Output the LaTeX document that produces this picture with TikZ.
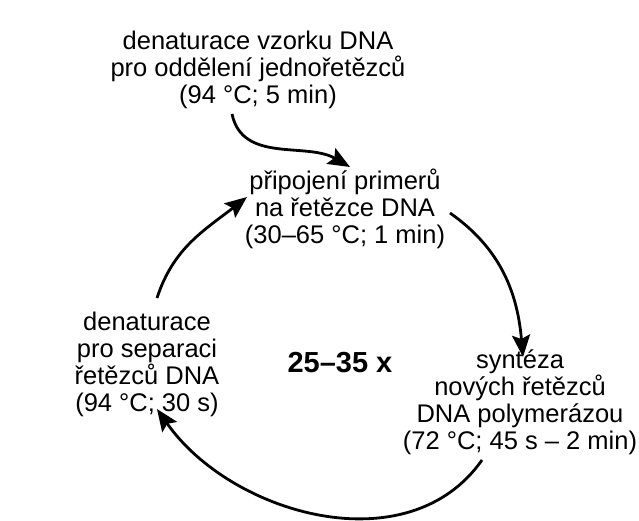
\documentclass[tikz,border=0pt]{standalone}
\usepackage{fontspec}
\setmainfont{Liberation Sans}
\usetikzlibrary{arrows.meta}
\tikzset{
  lbl/.style={align=center, inner sep=0pt, font=\fontsize{25.5}{27}\selectfont},
  cyc/.style={line width=2.8pt, -{Stealth[length=22pt,width=18pt,inset=4pt]}},
}
\begin{document}
\begin{tikzpicture}[x=1pt,y=1pt]
\useasboundingbox (0,0) rectangle (639,-520);
\node[lbl] (top) at (258,-70) {denaturace vzorku DNA\\pro oddělení jednořetězců\\(94 °C; 5 min)};
\node[lbl] (prim) at (345,-209) {připojení primerů\\na řetězce DNA\\(30–65 °C; 1 min)};
\node[lbl] (den) at (147,-364) {denaturace\\pro separaci\\řetězců DNA\\(94 °C; 30 s)};
\node[lbl] (syn) at (520,-402) {syntéza\\nových řetězců\\DNA polymerázou\\(72 °C; 45 s – 2 min)};
\node[inner sep=0pt, font=\fontsize{29}{31}\selectfont\bfseries] (cnt) at (340,-363) {25–35 x};
\coordinate (a1s) at (232,-114);
\coordinate (a1e) at (350,-167);
\coordinate (a2s) at (157,-298);
\coordinate (a2e) at (247,-197);
\coordinate (a3s) at (450,-213);
\coordinate (a3e) at (523,-357);
\coordinate (a4s) at (482,-460);
\coordinate (a4e) at (157,-409);
\draw[cyc] (a1s) to[out=-78,in=150] (a1e);
\draw[cyc] (a2s) to[out=72,in=218] (a2e);
\draw[cyc] (a3s) to[out=-35,in=95] (a3e);
\draw[cyc] (a4s) to[out=-125,in=-55] (a4e);
\end{tikzpicture}
\end{document}
